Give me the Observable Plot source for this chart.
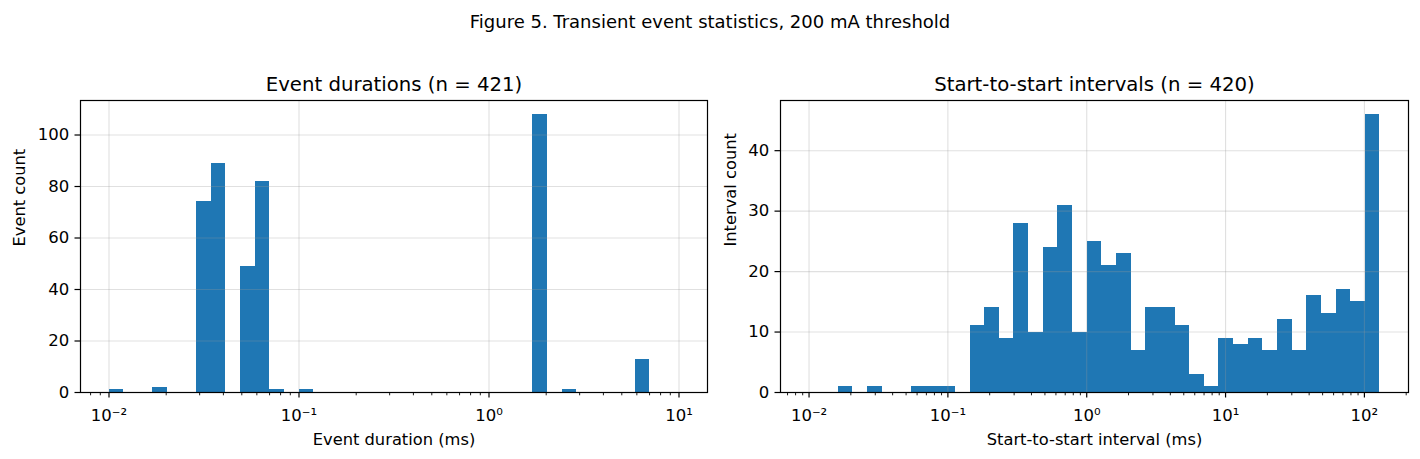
<!DOCTYPE html>
<html>
<head>
<meta charset="utf-8">
<script src="https://cdn.jsdelivr.net/npm/d3@7"></script>
<script src="https://cdn.jsdelivr.net/npm/@observablehq/plot@0.6"></script>
<style>
  html, body { margin: 0; padding: 0; background: white; }
  #wrap { position: relative; width: 1420px; height: 459px; font-family: "DejaVu Sans", sans-serif; }
  #suptitle { position: absolute; left: 0; top: 13px; width: 1420px; text-align: center; font-size: 18px; line-height: 18px; color: black; }
  #left { position: absolute; left: 0; top: 0; }
  #right { position: absolute; left: 710px; top: 0; }
</style>
</head>
<body>
<div id="wrap">
  <div id="left"></div>
  <div id="right"></div>
  <div id="suptitle">Figure 5. Transient event statistics, 200 mA threshold</div>
</div>
<script>
// ---- Event durations (ms): log-spaced bin edges and counts ----
const durEdges = [0.01, 0.01194, 0.01425, 0.01701, 0.02031, 0.02424, 0.02894, 0.03455, 0.04125, 0.04924,
  0.05878, 0.07017, 0.08377, 0.1, 0.1194, 0.1425, 0.1701, 0.2031, 0.2424, 0.2894,
  0.3455, 0.4125, 0.4924, 0.5878, 0.7017, 0.8377, 1, 1.194, 1.425, 1.701,
  2.031, 2.424, 2.894, 3.455, 4.125, 4.924, 5.878, 7.017, 8.377, 10];
const durCounts = [1, 0, 0, 2, 0, 0, 74, 89, 0, 49,
  82, 1, 0, 1, 0, 0, 0, 0, 0, 0,
  0, 0, 0, 0, 0, 0, 0, 0, 0, 108,
  0, 1, 0, 0, 0, 0, 13, 0, 0];

// ---- Start-to-start intervals (ms): log-spaced bin edges and counts ----
const intEdges = [0.01, 0.012748, 0.016251, 0.020716, 0.026409, 0.033665, 0.042916, 0.054708, 0.069741, 0.088905,
  0.11333, 0.14448, 0.18418, 0.23478, 0.2993, 0.38154, 0.48638, 0.62003, 0.7904, 1.0076,
  1.2845, 1.6374, 2.0873, 2.6609, 3.3921, 4.3241, 5.5123, 7.027, 8.9579, 11.419,
  14.557, 18.557, 23.657, 30.157, 38.444, 49.007, 62.474, 79.64, 101.52, 129.42];
const intCounts = [0, 0, 1, 0, 1, 0, 0, 1, 1, 1,
  0, 11, 14, 9, 28, 10, 24, 31, 10, 25,
  21, 23, 7, 14, 14, 11, 3, 1, 9, 8,
  9, 7, 12, 7, 16, 13, 17, 15, 46];

// ---- ticks ----
const durXTicks = [0.01, 0.1, 1, 10];
const durXTickLabels = ["10⁻²", "10⁻¹", "10⁰", "10¹"];
const intXTicks = [0.01, 0.1, 1, 10, 100];
const intXTickLabels = ["10⁻²", "10⁻¹", "10⁰", "10¹", "10²"];
const durYTicks = [0, 20, 40, 60, 80, 100];
const intYTicks = [0, 10, 20, 30, 40];
const minorDecades = [0.001, 0.01, 0.1, 1, 10, 100];
const minorMultipliers = [2, 3, 4, 5, 6, 7, 8, 9];

const durBins = durCounts.map((c, i) => ({lo: durEdges[i], hi: durEdges[i + 1], count: c}));
const intBins = intCounts.map((c, i) => ({lo: intEdges[i], hi: intEdges[i + 1], count: c}));
const minorAll = minorDecades.flatMap(d => minorMultipliers.map(m => d * m));

function panel({bins, xDomain, yMax, xTicks, xLabels, yTicks, title, xLabel, yLabel, marginLeft, marginRight, yLabelDx}) {
  const minor = minorAll.filter(v => v >= xDomain[0] && v <= xDomain[1]);
  return Plot.plot({
    width: 710,
    height: 459,
    marginLeft, marginRight,
    marginTop: 100,
    marginBottom: 67,
    style: {fontFamily: "DejaVu Sans", fontSize: "16.5px", color: "black", background: "white"},
    x: {type: "log", domain: xDomain},
    y: {domain: [0, yMax]},
    marks: [
      Plot.rectY(bins, {x1: "lo", x2: "hi", y: "count", fill: "#1f77b4", inset: 0, shapeRendering: "crispEdges"}),
      Plot.gridX(xTicks, {stroke: "#999", strokeOpacity: 0.3, strokeWidth: 1.1}),
      Plot.gridY(yTicks, {stroke: "#999", strokeOpacity: 0.3, strokeWidth: 1.1}),
      Plot.frame({stroke: "black", strokeWidth: 1.2}),
      Plot.axisX({ticks: minor, tickSize: 3.3, tickFormat: () => "", label: null, strokeWidth: 0.9}),
      Plot.axisX({ticks: xTicks, tickSize: 5.5, tickPadding: 10.8, label: null, strokeWidth: 1.2,
        tickFormat: d => xLabels[xTicks.indexOf(d)], fontSize: 16.5}),
      Plot.axisY({ticks: yTicks, tickSize: 5.5, tickPadding: 5.8, label: null, strokeWidth: 1.2, fontSize: 16.5}),
      Plot.text([title], {frameAnchor: "top", lineAnchor: "middle", dy: -16.3, fontSize: 19.7, fill: "black"}),
      Plot.text([xLabel], {frameAnchor: "bottom", lineAnchor: "middle", dy: 46.8, fontSize: 16.3, fill: "black"}),
      Plot.text([yLabel], {frameAnchor: "left", lineAnchor: "middle", rotate: -90, dx: yLabelDx, fontSize: 16.3, fill: "black"})
    ]
  });
}

document.getElementById("left").appendChild(panel({
  bins: durBins,
  xDomain: [Math.pow(10, -2.15), Math.pow(10, 1.15)],
  yMax: 108 * 1.05,
  xTicks: durXTicks, xLabels: durXTickLabels, yTicks: durYTicks,
  title: "Event durations (n = 421)",
  xLabel: "Event duration (ms)",
  yLabel: "Event count",
  marginLeft: 80, marginRight: 3, yLabelDx: -60.5
}));

document.getElementById("right").appendChild(panel({
  bins: intBins,
  xDomain: [Math.pow(10, -2.2056), Math.pow(10, 2.3176)],
  yMax: 46 * 1.05,
  xTicks: intXTicks, xLabels: intXTickLabels, yTicks: intYTicks,
  title: "Start-to-start intervals (n = 420)",
  xLabel: "Start-to-start interval (ms)",
  yLabel: "Interval count",
  marginLeft: 70, marginRight: 12, yLabelDx: -49.5
}));
</script>
</body>
</html>
